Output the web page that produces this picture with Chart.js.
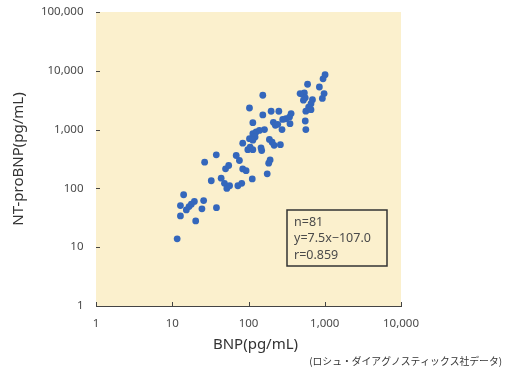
<!DOCTYPE html>
<html>
<head>
<meta charset="utf-8">
<script src="https://cdn.jsdelivr.net/npm/chart.js@4"></script>
<style>
  html, body { margin: 0; padding: 0; background: #fff; }
  #wrap { width: 505px; height: 369px; }
</style>
</head>
<body>
<div id="wrap"><canvas id="bnpChart" width="505" height="369"></canvas></div>
<script>
// BNP (x) vs NT-proBNP (y), pg/mL
const bnp = [
  11.6, 12.8, 12.8, 14.1, 15.3, 16.6, 17.8, 19.5, 20.3, 24.5, 25.8, 38,
  26.6, 32.5, 37.8, 43.8, 48.4, 52, 56.5, 50, 55, 69, 72.5, 81.5, 76, 84, 93, 112,
  84, 98, 103, 114, 114, 126, 103, 114, 146, 149, 162, 154, 154, 176, 184, 192,
  188, 217, 262, 198, 212, 225, 275, 250, 310, 362, 350, 122, 139,
  105, 114, 204, 242, 281, 345, 540,
  595, 510, 555, 525, 690, 660, 615, 565, 660, 555, 565, 850, 1010, 950, 980, 930, 475
];
const ntprobnp = [
  13.9, 34, 51, 78, 43, 49, 54, 60, 28, 45, 62, 47,
  279, 135, 373, 149, 122, 100, 111, 215, 245, 363, 111, 122, 298, 214, 200, 145,
  588, 455, 700, 455, 850, 910, 2330, 1310, 490, 440, 1000, 3840, 1780, 177, 269, 305,
  680, 540, 555, 2050, 1330, 1180, 1000, 2050, 1530, 1870, 1260, 750, 970,
  505, 660, 610, 1230, 1490, 1630, 4200,
  5900, 4000, 3470, 3170, 3230, 2760, 2420, 2060, 2180, 1400, 1000, 5300, 8600, 7300, 4100, 3390, 4100
];
const xTicks = [1, 10, 100, 1000, 10000];
const yTicks = [1, 10, 100, 1000, 10000, 100000];
const statLines = ['n=81', 'y=7.5x\u2212107.0', 'r=0.859'];
const xTitle = 'BNP(pg/mL)';
const yTitle = 'NT-proBNP(pg/mL)';
const source = '(ロシュ・ダイアグノスティックス社データ)';

const points = bnp.map((v, i) => ({ x: v, y: ntprobnp[i] }));
const axisColor = '#444';
const textColor = '#4a4a4a';

const fmt = v => Number(v).toLocaleString('en-US');

const decor = {
  id: 'decor',
  beforeDatasetsDraw(chart) {
    const { ctx, chartArea: a } = chart;
    ctx.save();
    ctx.fillStyle = '#fbf0cd';
    ctx.fillRect(a.left, a.top, a.right - a.left, a.bottom - a.top);
    ctx.restore();
  },
  afterDraw(chart) {
    const { ctx, chartArea: a, scales } = chart;
    ctx.save();
    // inward tick marks
    ctx.strokeStyle = axisColor;
    ctx.lineWidth = 1;
    ctx.beginPath();
    xTicks.forEach(v => {
      const px = Math.round(scales.x.getPixelForValue(v)) + 0.5;
      ctx.moveTo(px, a.bottom);
      ctx.lineTo(px, a.bottom - 4);
    });
    yTicks.forEach(v => {
      const py = Math.round(scales.y.getPixelForValue(v)) + 0.5;
      ctx.moveTo(a.left, py);
      ctx.lineTo(a.left + 4, py);
    });
    ctx.stroke();

    // stats box
    const bx = a.left + 191, by = a.top + 198, bw = 100, bh = 56;
    ctx.lineWidth = 1.5;
    ctx.strokeStyle = '#333';
    ctx.strokeRect(bx, by, bw, bh);
    ctx.fillStyle = textColor;
    ctx.font = '12.5px "Noto Sans", sans-serif';
    ctx.textAlign = 'left';
    ctx.textBaseline = 'middle';
    statLines.forEach((t, i) => ctx.fillText(t, bx + 7, by + 12 + i * 16.5));

    // x title
    ctx.fillStyle = '#333';
    ctx.font = '15px "Noto Sans", sans-serif';
    ctx.textAlign = 'center';
    ctx.fillText(xTitle, (a.left + a.right) / 2 + 7, 345);

    // source note
    ctx.font = '9.8px "Noto Sans CJK JP", sans-serif';
    ctx.textAlign = 'right';
    ctx.fillText(source, 502, 361);
    ctx.restore();
  }
};

new Chart(document.getElementById('bnpChart'), {
  type: 'scatter',
  data: {
    datasets: [{
      label: 'BNP vs NT-proBNP',
      data: points,
      backgroundColor: '#3467bc',
      borderColor: '#3467bc',
      borderWidth: 0,
      pointRadius: 3.4,
      pointHoverRadius: 3.4
    }]
  },
  options: {
    responsive: false,
    devicePixelRatio: 1,
    animation: false,
    layout: { padding: { top: 12, right: 104, left: 0, bottom: 0 } },
    plugins: { legend: { display: false }, tooltip: { enabled: false } },
    scales: {
      x: {
        type: 'logarithmic',
        position: 'bottom',
        min: 1,
        max: 10000,
        afterBuildTicks: s => { s.ticks = xTicks.map(v => ({ value: v })); },
        afterFit: s => { s.height = 63; s.paddingLeft = 0; s.paddingRight = 0; },
        grid: { drawOnChartArea: false, drawTicks: false },
        border: { display: true, color: axisColor, width: 1 },
        ticks: {
          autoSkip: false,
          maxRotation: 0,
          padding: 11,
          color: textColor,
          font: { family: '"Noto Sans", sans-serif', size: 11.5 },
          callback: v => fmt(v)
        }
      },
      y: {
        type: 'logarithmic',
        position: 'left',
        min: 1,
        max: 100000,
        afterBuildTicks: s => { s.ticks = yTicks.map(v => ({ value: v })); },
        afterFit: s => { s.width = 96; s.paddingTop = 0; s.paddingBottom = 0; },
        grid: { drawOnChartArea: false, drawTicks: false },
        border: { display: true, color: axisColor, width: 1 },
        ticks: {
          autoSkip: false,
          padding: 12.5,
          color: textColor,
          font: { family: '"Noto Sans", sans-serif', size: 11.5 },
          callback: v => fmt(v)
        },
        title: {
          display: true,
          text: yTitle,
          color: '#333',
          font: { family: '"Noto Sans", sans-serif', size: 15 },
          padding: { top: 10, bottom: 0 }
        }
      }
    }
  },
  plugins: [decor]
});
</script>
</body>
</html>
